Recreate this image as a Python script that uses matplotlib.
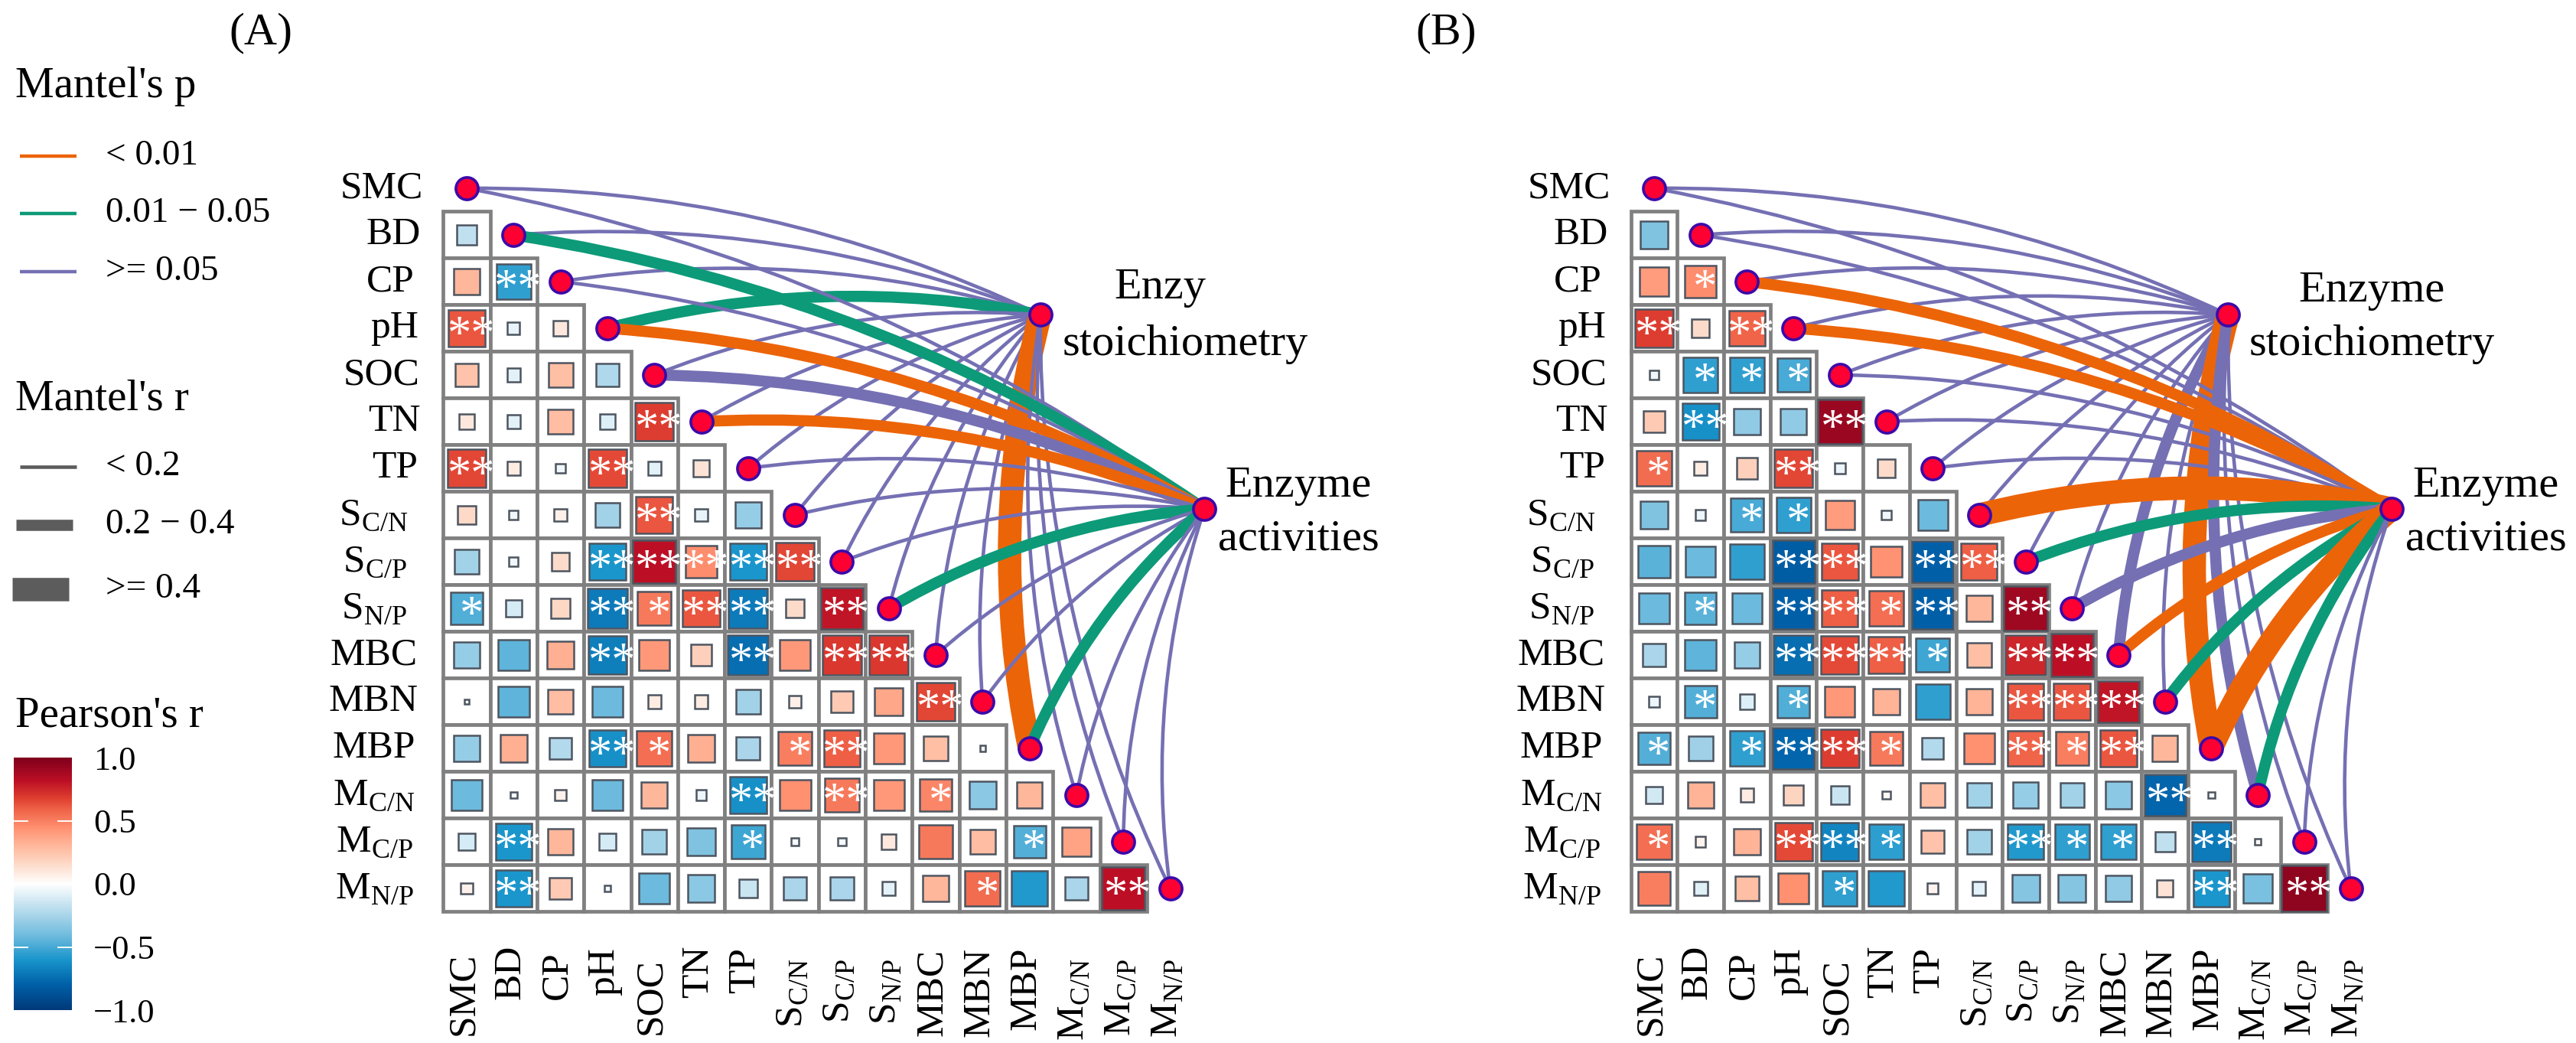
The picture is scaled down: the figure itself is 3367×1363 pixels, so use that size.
import matplotlib
matplotlib.use("Agg")
import matplotlib.pyplot as plt
import numpy as np
from matplotlib.colors import LinearSegmentedColormap
from matplotlib.patches import Rectangle, PathPatch
from matplotlib.path import Path

plt.rcParams["font.family"] = ["Liberation Serif", "DejaVu Sans"]
plt.rcParams["mathtext.fontset"] = "custom"
plt.rcParams["mathtext.rm"] = "Liberation Serif"

W, H = 3367, 1363

labels = ["SMC", "BD", "CP", "pH", "SOC", "TN", "TP",
          r"S$_{\mathrm{C/N}}$", r"S$_{\mathrm{C/P}}$", r"S$_{\mathrm{N/P}}$",
          "MBC", "MBN", "MBP",
          r"M$_{\mathrm{C/N}}$", r"M$_{\mathrm{C/P}}$", r"M$_{\mathrm{N/P}}$"]

# Pearson's r, lower triangle, row BD to row MN/P
r_a = [
    [-.18],
    [.30, -.55],
    [.62, -.07, .10],
    [.25, -.08, .27, -.23],
    [.10, -.08, .28, -.10, .68],
    [.66, .08, -.04, .65, -.08, .12],
    [.16, -.04, .07, -.27, .62, -.07, -.30],
    [-.27, -.04, .15, -.60, .82, .46, -.60, .66],
    [-.48, -.12, .17, -.70, .52, .62, -.70, .15, .80],
    [-.30, -.45, .33, -.68, .42, .20, -.75, .42, .70, .70],
    [-.01, -.45, .28, -.42, .08, .08, -.27, .07, .22, .36, .66],
    [-.30, .33, -.22, -.62, .55, .33, -.25, .50, .60, .42, .27, -.015],
    [-.42, -.02, .06, -.42, .30, -.05, -.62, .45, .52, .42, .48, -.33, .30],
    [-.12, -.60, .30, -.12, -.27, -.36, -.52, -.03, -.03, .10, .52, .28, -.47, .38],
    [.06, -.60, .22, -.02, -.42, -.33, -.15, -.25, -.25, -.08, .30, .56, -.58, -.25, .82],
]
sig_a = [
    [0],
    [0, 2],
    [2, 0, 0],
    [0, 0, 0, 0],
    [0, 0, 0, 0, 2],
    [2, 0, 0, 2, 0, 0],
    [0, 0, 0, 0, 2, 0, 0],
    [0, 0, 0, 2, 2, 2, 2, 2],
    [1, 0, 0, 2, 1, 2, 2, 0, 2],
    [0, 0, 0, 2, 0, 0, 2, 0, 2, 2],
    [0, 0, 0, 0, 0, 0, 0, 0, 0, 0, 2],
    [0, 0, 0, 2, 1, 0, 0, 1, 2, 0, 0, 0],
    [0, 0, 0, 0, 0, 0, 2, 0, 2, 0, 1, 0, 0],
    [0, 2, 0, 0, 0, 0, 1, 0, 0, 0, 0, 0, 1, 0],
    [0, 2, 0, 0, 0, 0, 0, 0, 0, 0, 0, 1, 0, 0, 2],
]
r_b = [
    [-.36],
    [.40, .46],
    [.68, .15, .58],
    [-.04, -.55, -.55, -.50],
    [.22, -.62, -.32, -.32, .92],
    [.56, .08, .20, .66, -.05, .15],
    [-.36, -.05, -.50, -.55, .40, -.04, -.42],
    [-.46, -.42, -.55, -.82, .62, .44, -.80, .60],
    [-.42, -.46, -.42, -.80, .60, .55, -.80, .30, .90],
    [-.25, -.45, -.30, -.75, .65, .60, -.52, .27, .75, .82],
    [-.05, -.47, -.10, -.48, .42, .32, -.55, .32, .62, .62, .80],
    [-.47, -.28, -.55, -.78, .68, .52, -.22, .45, .58, .50, .62, .30],
    [-.13, .32, .08, .18, -.15, .03, .27, -.27, -.30, -.27, -.33, -.78, -.02],
    [.55, .05, .32, .65, -.66, -.56, .25, -.27, -.58, -.55, -.55, -.18, -.70, .02],
    [.50, -.09, .27, .45, -.55, -.58, .05, -.08, -.35, -.35, -.32, .12, -.60, -.38, .95],
]
sig_b = [
    [0],
    [0, 1],
    [2, 0, 2],
    [0, 1, 1, 1],
    [0, 2, 0, 0, 2],
    [1, 0, 0, 2, 0, 0],
    [0, 0, 1, 1, 0, 0, 0],
    [0, 0, 0, 2, 2, 0, 2, 2],
    [0, 1, 0, 2, 2, 1, 2, 0, 2],
    [0, 0, 0, 2, 2, 2, 1, 0, 2, 2],
    [0, 1, 0, 1, 0, 0, 0, 0, 2, 2, 2],
    [1, 0, 1, 2, 2, 1, 0, 0, 2, 1, 2, 0],
    [0, 0, 0, 0, 0, 0, 0, 0, 0, 0, 0, 2, 0],
    [1, 0, 0, 2, 2, 1, 0, 0, 2, 1, 1, 0, 2, 0],
    [0, 0, 0, 0, 1, 0, 0, 0, 0, 0, 0, 0, 2, 0, 2],
]

# Mantel classes per variable: p 0 "<0.01", 1 "0.01-0.05", 2 ">=0.05"; r 0 "<0.2", 1 "0.2-0.4", 2 ">=0.4"
p_stoich_a = [2, 2, 2, 1, 2, 2, 2, 2, 2, 2, 2, 2, 0, 2, 2, 2]
w_stoich_a = [0, 0, 0, 1, 0, 0, 0, 0, 0, 0, 0, 0, 2, 0, 0, 0]
p_activ_a = [2, 1, 2, 0, 2, 0, 2, 2, 2, 1, 2, 2, 1, 2, 2, 2]
w_activ_a = [0, 1, 0, 1, 1, 1, 0, 0, 0, 1, 0, 0, 1, 0, 0, 0]
p_stoich_b = [2, 2, 2, 2, 2, 2, 2, 2, 2, 2, 2, 2, 0, 2, 2, 2]
w_stoich_b = [0, 0, 0, 0, 0, 0, 0, 0, 0, 0, 1, 0, 2, 1, 0, 0]
p_activ_b = [2, 2, 0, 0, 2, 2, 2, 0, 1, 2, 0, 1, 0, 1, 2, 2]
w_activ_b = [0, 0, 1, 1, 0, 0, 0, 2, 1, 1, 1, 1, 2, 1, 0, 0]

p_labels = ["< 0.01", "0.01 \u2212 0.05", ">= 0.05"]
w_labels = ["< 0.2", "0.2 \u2212 0.4", ">= 0.4"]
cbar_ticks = [1.0, 0.5, 0.0, -0.5, -1.0]

p_colors = ["#EC6408", "#0D9A78", "#7570B3"]
w_widths = [3.3, 10.5, 22.0]

cmap = LinearSegmentedColormap.from_list("pearson", [
    (0.0, "#003A7A"), (0.1, "#0060A8"), (0.2, "#1A96CC"), (0.29, "#6CBADD"),
    (0.375, "#A9D5EA"), (0.5, "#FFFFFF"), (0.575, "#FDDCCB"), (0.65, "#FFB89C"),
    (0.725, "#FF9070"), (0.8, "#EE5F45"), (0.84, "#DF3F30"), (0.91, "#BC0F25"),
    (1.0, "#7F001C")])

# pixel offsets of the hand placed labels, relative to the first cell / top edge
row_label_right = [-57, -60, -68, -63, -62, -60, -64, -77, -78, -78, -64, -64, -67, -68, -70, -69]
col_label_top = [1245, 1235, 1243, 1238, 1252, 1236, 1238, 1253, 1253, 1253, 1240, 1238, 1238, 1253, 1253, 1253]

fig = plt.figure(figsize=(W / 100, H / 100), dpi=100)


def panel_axes(x0, cw, y0=246, ch=61):
    # axes over the whole figure, one data unit = one matrix cell
    ax = fig.add_axes([0, 0, 1, 1])
    ax.set_xlim(-x0 / cw, (W - x0) / cw)
    ax.set_ylim((H - y0) / ch, -y0 / ch)
    ax.axis("off")
    ax.patch.set_alpha(0)
    return ax


def curve(ax, start, end, color, lw, rad=0.115):
    sx, sy = start
    ex, ey = end
    mx, my = (sx + ex) / 2, (sy + ey) / 2
    dx, dy = ex - sx, ey - sy
    path = Path([(sx, sy), (mx + rad * dy, my - rad * dx), (ex, ey)],
                [Path.MOVETO, Path.CURVE3, Path.CURVE3])
    ax.add_patch(PathPatch(path, fc="none", ec=color, lw=lw, capstyle="butt", zorder=4))


def draw_panel(x0, cw, r, sig, hubs, links):
    ax = panel_axes(x0, cw)
    for i, row in enumerate(r):
        for j, val in enumerate(row):
            ax.add_patch(Rectangle((j - 0.5, i + 0.5), 1, 1, fc="white", ec="#808080", lw=3.4, zorder=1))
    for i, row in enumerate(r):
        for j, val in enumerate(row):
            side = np.sqrt(abs(val))
            ax.add_patch(Rectangle((j - side / 2, i + 1 - side / 2), side, side,
                                   fc=cmap((val + 1) / 2), ec="#4d5560", lw=1.8, zorder=2))
    for i, row in enumerate(sig):
        for j, n in enumerate(row):
            if n:
                ax.text(j + 0.1, i + 1 + 0.44, "*" * n, color="white", fontsize=45,
                        ha="center", va="baseline", zorder=3)

    for (px, wx), hub in zip(links, hubs):
        for k in range(16):
            curve(ax, (k, k), hub, p_colors[px[k]], w_widths[wx[k]])

    ax.plot(range(16), range(16), ls="none", marker="o", ms=21, mfc="#FF0033", mec="#3C0AA8", mew=2.6, zorder=6)
    ax.plot([h[0] for h in hubs], [h[1] for h in hubs], ls="none", marker="o", ms=21,
            mfc="#FF0033", mec="#3C0AA8", mew=2.6, zorder=6)

    for k, name in enumerate(labels):
        ax.text(row_label_right[k] / cw, k, name, fontsize=37, ha="right", va="center", color="black")
        ax.text(k - 4 / cw, (col_label_top[k] - 246) / 61, name, fontsize=37, rotation=90,
                ha="center", va="top", color="black")
    return ax


ax_a = draw_panel(610, 61.3, r_a, sig_a, [(12.23, 2.71), (15.73, 6.87)],
                  [(p_stoich_a, w_stoich_a), (p_activ_a, w_activ_a)])
ax_b = draw_panel(2162, 60.7, r_b, sig_b, [(12.36, 2.71), (15.88, 6.87)],
                  [(p_stoich_b, w_stoich_b), (p_activ_b, w_activ_b)])

# legends and hub names in figure pixels
lg = fig.add_axes([0, 0, 1, 1])
lg.set_xlim(0, W)
lg.set_ylim(H, 0)
lg.axis("off")
lg.patch.set_alpha(0)

lg.text(341, 43, "(A)", fontsize=43, ha="center", va="center")
lg.text(1890, 43, "(B)", fontsize=43, ha="center", va="center")

lg.text(1456, 376, "Enzy", fontsize=42, ha="left", va="center")
lg.text(1549, 450, "stoichiometry", fontsize=42, ha="center", va="center")
lg.text(1697, 635, "Enzyme", fontsize=42, ha="center", va="center")
lg.text(1697, 705, "activities", fontsize=42, ha="center", va="center")
lg.text(3100, 380, "Enzyme", fontsize=42, ha="center", va="center")
lg.text(3100, 450, "stoichiometry", fontsize=42, ha="center", va="center")
lg.text(3249, 635, "Enzyme", fontsize=42, ha="center", va="center")
lg.text(3249, 705, "activities", fontsize=42, ha="center", va="center")

lg.text(20, 113, "Mantel's p", fontsize=41, ha="left", va="center")
for y, c, t in zip([204, 279, 355], p_colors, p_labels):
    lg.plot([26, 100], [y, y], color=c, lw=3.2, solid_capstyle="butt")
    lg.text(138, y, t, fontsize=34, ha="left", va="center")

lg.text(20, 522, "Mantel's r", fontsize=41, ha="left", va="center")
for y, x0, x1, lw, t in zip([610, 686, 770], [26, 21, 16], [100, 95, 90], w_widths, w_labels):
    lg.plot([x0, x1], [y, y], color="#5c5c5c", lw=lw, solid_capstyle="butt")
    lg.text(138, y, t, fontsize=34, ha="left", va="center")

lg.text(20, 935, "Pearson's r", fontsize=41, ha="left", va="center")

cax = fig.add_axes([18 / W, 1 - 1320 / H, 76 / W, 330 / H])
grad = np.linspace(1, -1, 256).reshape(-1, 1)
cax.imshow(grad, cmap=cmap, vmin=-1, vmax=1, aspect="auto", extent=[0, 1, -1, 1])
cax.set_xticks([])
cax.yaxis.tick_right()
cax.set_yticks(cbar_ticks)
cax.set_yticklabels([f"{v:.1f}".replace("-", "\u2212") for v in cbar_ticks], fontsize=32)
cax.tick_params(axis="y", length=0, pad=20)
for s in cax.spines.values():
    s.set_visible(False)
for v in cbar_ticks[1:-1]:
    cax.plot([0, 0.24], [v, v], color="white", lw=1.4)
    cax.plot([0.76, 1], [v, v], color="white", lw=1.4)
cax.set_xlim(0, 1)
cax.set_ylim(-1, 1)

fig.savefig("out.png", dpi=100)
